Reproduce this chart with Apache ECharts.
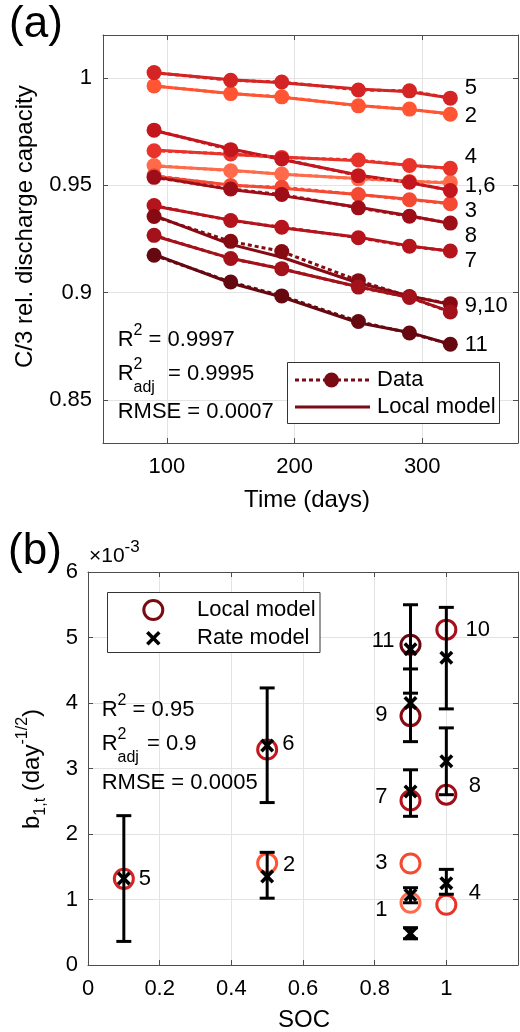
<!DOCTYPE html>
<html><head><meta charset="utf-8">
<script src="https://cdn.jsdelivr.net/npm/echarts@6/dist/echarts.min.js"></script>
<style>html,body{margin:0;padding:0;background:#fff}#c{width:520px;height:1032px}</style>
</head><body><div id="c"></div>
<script>
// ---------- Panel (a) data ----------
const days = [90, 150, 190, 250, 290, 322];
const cellNames = ['1','2','3','4','5','6','7','8','9','10','11'];
const data1  = [0.9592, 0.9568, 0.9553, 0.9530, 0.9518, 0.9514];
const data2  = [0.9963, 0.9927, 0.9912, 0.9870, 0.9855, 0.9831];
const data3  = [0.9545, 0.9499, 0.9491, 0.9457, 0.9433, 0.9414];
const data4  = [0.9661, 0.9646, 0.9630, 0.9618, 0.9592, 0.9579];
const data5  = [1.0025, 0.9989, 0.9981, 0.9944, 0.9940, 0.9906];
const data6  = [0.9757, 0.9666, 0.9623, 0.9545, 0.9514, 0.9476];
const data7  = [0.9406, 0.9336, 0.9305, 0.9256, 0.9216, 0.9194];
const data8  = [0.9537, 0.9483, 0.9457, 0.9395, 0.9356, 0.9324];
const data9  = [0.9355, 0.9239, 0.9192, 0.9056, 0.8982, 0.8949];
const data10 = [0.9267, 0.9159, 0.9112, 0.9026, 0.8978, 0.8910];
const data11 = [0.9174, 0.9050, 0.8985, 0.8866, 0.8812, 0.8760];
const model1  = [0.9590, 0.9570, 0.9552, 0.9532, 0.9520, 0.9510];
const model2  = [0.9962, 0.9928, 0.9910, 0.9872, 0.9853, 0.9833];
const model3  = [0.9542, 0.9502, 0.9486, 0.9457, 0.9435, 0.9415];
const model4  = [0.9664, 0.9644, 0.9632, 0.9614, 0.9594, 0.9580];
const model5  = [1.0024, 0.9992, 0.9978, 0.9948, 0.9936, 0.9907];
const model6  = [0.9755, 0.9670, 0.9620, 0.9548, 0.9512, 0.9477];
const model7  = [0.9404, 0.9338, 0.9302, 0.9258, 0.9218, 0.9193];
const model8  = [0.9540, 0.9480, 0.9452, 0.9398, 0.9358, 0.9322];
const model9  = [0.9360, 0.9225, 0.9165, 0.9045, 0.8985, 0.8945];
const model10 = [0.9265, 0.9160, 0.9110, 0.9028, 0.8978, 0.8912];
const model11 = [0.9178, 0.9045, 0.8980, 0.8860, 0.8815, 0.8760];
const endLabelsA = ['5', '2', '4', '1,6', '3', '8', '7', '9,10', '11'];
const endLabelsAValue = [0.9955, 0.9822, 0.9630, 0.9498, 0.9382, 0.9266, 0.9150, 0.8940, 0.8755];
const endLabelsADay = 333;

// ---------- Panel (b) data (units of 1e-3) ----------
const socCells = [0.9, 0.5, 0.9, 1.0, 0.1, 0.5, 0.9, 1.0, 0.9, 1.0, 0.9];
const localB   = [0.95, 1.555, 1.55, 0.92, 1.315, 3.29, 2.51, 2.60, 3.80, 5.12, 4.89];
const rateSoc  = [0.1, 0.5, 0.5, 0.9, 0.9, 0.9, 0.9, 0.9, 1.0, 1.0, 1.0];
const rateB    = [1.32, 1.35, 3.35, 1.07, 0.48, 2.65, 4.00, 4.82, 4.69, 3.11, 1.25];
const rateLo   = [0.36, 1.02, 2.48, 0.95, 0.40, 2.27, 3.41, 4.15, 3.91, 2.60, 1.08];
const rateHi   = [2.28, 1.72, 4.23, 1.18, 0.57, 2.98, 4.52, 5.50, 5.46, 3.62, 1.46];
const labelsBRight      = ['5', '2', '6', '10', '8', '4'];
const labelsBRightSoc   = [0.140, 0.543, 0.541, 1.052, 1.061, 1.061];
const labelsBRightValue = [1.32, 1.53, 3.37, 5.12, 2.73, 1.10];
const labelsBLeft       = ['3', '1', '7', '9', '11'];
const labelsBLeftSoc    = [0.837, 0.837, 0.837, 0.837, 0.857];
const labelsBLeftValue  = [1.56, 0.84, 2.57, 3.82, 4.94];

// ---------- styles ----------
const FF = '"Liberation Sans", Arial, Helvetica, sans-serif';
const cellColors = ['#FF6B4A','#FF5533','#F44A33','#E8332A','#D42424','#C4161D','#B5141C','#9E0E18','#850A12','#A3121A','#650810'];
const AX = '#4d4d4d', GRIDC = '#e3e3e3', TXT = '#000';
const dataA  = [data1,data2,data3,data4,data5,data6,data7,data8,data9,data10,data11];
const modelA = [model1,model2,model3,model4,model5,model6,model7,model8,model9,model10,model11];
const XPATH = 'path://M0,1.8 L1.8,0 L5,3.2 L8.2,0 L10,1.8 L6.8,5 L10,8.2 L8.2,10 L5,6.8 L1.8,10 L0,8.2 L3.2,5 Z';
const LBL = {show: true, distance: 0, formatter: p => p.name, fontSize: 22, fontFamily: FF, color: '#000', opacity: 1};

function mkAxis(o) {
  return Object.assign({
    type: 'value', axisLine: {show: true, onZero: false, lineStyle: {color: AX, width: 1}},
    axisTick: {show: true, inside: true, length: 5, lineStyle: {color: AX, width: 1}},
    axisLabel: {show: true, fontSize: 22, color: TXT, fontFamily: FF, margin: 11},
    splitLine: {show: true, lineStyle: {color: GRIDC, width: 1}}
  }, o);
}
function mirror(o) {
  return mkAxis(Object.assign({axisLabel: {show: false}, splitLine: {show: false}}, o));
}

const xAxis = [
  mkAxis({gridIndex: 0, position: 'bottom', min: 50, max: 375, splitNumber: 3,
    axisLabel: {fontSize: 22, color: TXT, fontFamily: FF, margin: 13, showMinLabel: false, showMaxLabel: false}}),
  mirror({gridIndex: 0, position: 'top', min: 50, max: 375, splitNumber: 3}),
  mkAxis({gridIndex: 1, position: 'bottom', min: 0, max: 1.2, interval: 0.2,
    axisLabel: {fontSize: 22, color: TXT, fontFamily: FF, margin: 13, showMaxLabel: false}}),
  mirror({gridIndex: 1, position: 'top', min: 0, max: 1.2, interval: 0.2})
];
const yAxis = [
  mkAxis({gridIndex: 0, position: 'left', min: 0.83, max: 1.02, splitNumber: 4,
    axisLabel: {fontSize: 22, color: TXT, fontFamily: FF, margin: 11, showMinLabel: false, showMaxLabel: false}}),
  mirror({gridIndex: 0, position: 'right', min: 0.83, max: 1.02, splitNumber: 4}),
  mkAxis({gridIndex: 1, position: 'left', min: 0, max: 6, interval: 1,
    axisLabel: {fontSize: 22, color: TXT, fontFamily: FF, margin: 10}}),
  mirror({gridIndex: 1, position: 'right', min: 0, max: 6, interval: 1})
];

const series = [];
dataA.forEach((d, i) => {
  series.push({type: 'line', xAxisIndex: 0, yAxisIndex: 0, silent: true, z: 2 + i * 0.01,
    data: days.map((t, k) => [t, modelA[i][k]]), symbol: 'none', showSymbol: false,
    lineStyle: {color: cellColors[i], width: 3, opacity: 1}});
  series.push({type: 'line', xAxisIndex: 0, yAxisIndex: 0, silent: true, z: 3 + i * 0.01,
    data: days.map((t, k) => [t, d[k]]), symbol: 'circle', symbolSize: 15, showSymbol: true,
    itemStyle: {color: cellColors[i], opacity: 1}, lineStyle: {color: cellColors[i], width: 3, type: [4, 3], opacity: 1}});
});
series.push({type: 'scatter', xAxisIndex: 0, yAxisIndex: 0, silent: true, z: 5, symbolSize: 1,
  itemStyle: {color: 'transparent', opacity: 1},
  data: endLabelsA.map((n, i) => ({name: n, value: [endLabelsADay, endLabelsAValue[i]]})),
  label: Object.assign({position: 'right'}, LBL)});

// panel b
series.push({type: 'scatter', xAxisIndex: 2, yAxisIndex: 2, silent: true, z: 2, symbol: 'circle', symbolSize: 19,
  data: socCells.map((s, i) => ({value: [s, localB[i]], itemStyle: {color: 'transparent', borderColor: cellColors[i], borderWidth: 3, opacity: 1}}))});
series.push({type: 'custom', xAxisIndex: 2, yAxisIndex: 2, silent: true, z: 3,
  data: rateSoc.map((s, i) => [s, rateLo[i], rateHi[i]]),
  encode: {x: 0, y: [1, 2]},
  renderItem: (params, api) => {
    const x = api.value(0);
    const lo = api.coord([x, api.value(1)]);
    const hi = api.coord([x, api.value(2)]);
    const w = 7.5, st = {stroke: '#000', lineWidth: 3};
    return {type: 'group', children: [
      {type: 'line', shape: {x1: lo[0], y1: lo[1], x2: hi[0], y2: hi[1]}, style: st},
      {type: 'line', shape: {x1: lo[0] - w, y1: lo[1], x2: lo[0] + w, y2: lo[1]}, style: st},
      {type: 'line', shape: {x1: hi[0] - w, y1: hi[1], x2: hi[0] + w, y2: hi[1]}, style: st}
    ]};
  }});
series.push({type: 'scatter', xAxisIndex: 2, yAxisIndex: 2, silent: true, z: 4, symbol: XPATH, symbolSize: 14,
  itemStyle: {color: '#000', opacity: 1}, data: rateSoc.map((s, i) => [s, rateB[i]])});
series.push({type: 'scatter', xAxisIndex: 2, yAxisIndex: 2, silent: true, z: 5, symbolSize: 1, itemStyle: {color: 'transparent', opacity: 1},
  data: labelsBRight.map((n, i) => ({name: n, value: [labelsBRightSoc[i], labelsBRightValue[i]]})),
  label: Object.assign({position: 'right'}, LBL)});
series.push({type: 'scatter', xAxisIndex: 2, yAxisIndex: 2, silent: true, z: 5, symbolSize: 1, itemStyle: {color: 'transparent', opacity: 1},
  data: labelsBLeft.map((n, i) => ({name: n, value: [labelsBLeftSoc[i], labelsBLeftValue[i]]})),
  label: Object.assign({position: 'left'}, LBL)});

// ---------- graphics (text / legends) ----------
const supRich = {sup: {fontSize: 16, fontFamily: FF, fill: '#000', lineHeight: 14, verticalAlign: 'top'},
                 sub: {fontSize: 16, fontFamily: FF, fill: '#000', lineHeight: 14, verticalAlign: 'bottom'}};
function txt(x, y, text, size, opts) {
  return Object.assign({type: 'text', x: x, y: y, silent: true, z: 100,
    style: Object.assign({text: text, font: size + 'px ' + FF, fontSize: size, fontFamily: FF, fill: '#000',
      lineHeight: 34, rich: supRich,
      align: 'left', verticalAlign: 'middle', textAlign: 'left', textVerticalAlign: 'middle'}, (opts && opts.style) || {})},
    (opts && opts.el) || {});
}
const C = {align: 'center', textAlign: 'center'};
const MAROON = '#7A0A14';
const graphic = [
  txt(36, 25, '(a)', 44, {style: C}),
  txt(35, 552, '(b)', 44, {style: C}),
  txt(25, 226.7, 'C/3 rel. discharge capacity', 24, {style: C, el: {rotation: Math.PI / 2}}),
  txt(307, 500, 'Time (days)', 24, {style: C}),
  txt(304, 1020, 'SOC', 24, {style: C}),
  txt(32, 769, 'b{sub|1,t} (day{sup|-1/2})', 24, {style: C, el: {rotation: Math.PI / 2}}),
  txt(89, 556, '×10{sup|-3}', 21, {style: {rich: {sup: {fontSize: 17, fontFamily: FF, fill: '#000', lineHeight: 14, verticalAlign: 'top'}}}}),
  // panel a stats
  txt(117.7, 339.5, 'R{sup|2} = 0.9997', 22),
  txt(117.7, 373.5, 'R{sup|2}', 22),
  txt(133.5, 387.5, 'adj', 16),
  txt(168, 373.5, '= 0.9995', 22),
  txt(117.7, 411.7, 'RMSE = 0.0007', 22),
  // panel b stats
  txt(101.7, 710, 'R{sup|2} = 0.95', 22),
  txt(101.7, 744, 'R{sup|2}', 22),
  txt(117.5, 758, 'adj', 16),
  txt(147, 744, '= 0.9', 22),
  txt(101.7, 783.3, 'RMSE = 0.0005', 22),
  // legend a
  {type: 'rect', z: 90, silent: true, shape: {x: 287.5, y: 362.5, width: 212, height: 61}, style: {fill: '#fff', stroke: '#333', lineWidth: 1}},
  {type: 'line', z: 91, silent: true, shape: {x1: 295, y1: 380, x2: 370, y2: 380}, style: {stroke: MAROON, lineWidth: 3, lineDash: [4, 3]}},
  {type: 'circle', z: 92, silent: true, shape: {cx: 331.5, cy: 380, r: 7.5}, style: {fill: MAROON}},
  txt(377, 380, 'Data', 22),
  {type: 'line', z: 91, silent: true, shape: {x1: 295, y1: 407, x2: 370, y2: 407}, style: {stroke: MAROON, lineWidth: 3}},
  txt(377, 407, 'Local model', 22),
  // legend b
  {type: 'rect', z: 90, silent: true, shape: {x: 107.5, y: 592.5, width: 212.5, height: 60}, style: {fill: '#fff', stroke: '#333', lineWidth: 1}},
  {type: 'circle', z: 92, silent: true, shape: {cx: 153.3, cy: 610, r: 9.5}, style: {fill: 'none', stroke: MAROON, lineWidth: 3}},
  {type: 'line', z: 92, silent: true, shape: {x1: 147.3, y1: 632.3, x2: 159.3, y2: 644.3}, style: {stroke: '#000', lineWidth: 3.5}},
  {type: 'line', z: 92, silent: true, shape: {x1: 159.3, y1: 632.3, x2: 147.3, y2: 644.3}, style: {stroke: '#000', lineWidth: 3.5}},
  txt(197, 610, 'Local model', 22),
  txt(197, 638.3, 'Rate model', 22)
];

const chart = echarts.init(document.getElementById('c'), null, {renderer: 'canvas'});
chart.setOption({
  animation: false,
  backgroundColor: '#fff',
  textStyle: {fontFamily: FF},
  grid: [
    {left: 103, top: 35, width: 415, height: 408, containLabel: false, outerBoundsMode: 'none'},
    {left: 88, top: 572, width: 430, height: 393, containLabel: false, outerBoundsMode: 'none'}
  ],
  xAxis: xAxis,
  yAxis: yAxis,
  series: series,
  graphic: graphic
});
</script></body></html>
